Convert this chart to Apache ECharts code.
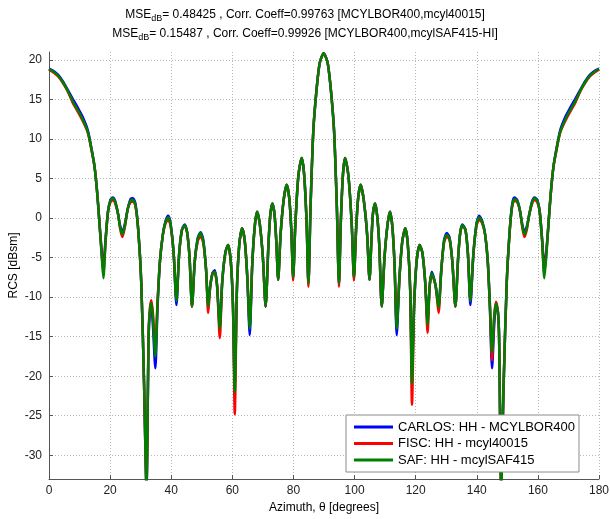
<!DOCTYPE html>
<html>
<head>
<meta charset="utf-8">
<script src="https://cdn.jsdelivr.net/npm/echarts@6/dist/echarts.min.js"></script>
<style>html,body{margin:0;padding:0;background:#fff}#c{width:610px;height:519px}</style>
</head>
<body>
<div id="c"></div>
<script>
const seriesNames = ['CARLOS: HH - MCYLBOR400', 'FISC: HH - mcyl40015', 'SAF: HH - mcylSAF415'];
const titleLines = [
  ['MSE', 'dB', '= 0.48425 , Corr. Coeff=0.99763 [MCYLBOR400,mcyl40015]'],
  ['MSE', 'dB', '= 0.15487 , Corr. Coeff=0.99926 [MCYLBOR400,mcylSAF415-HI]']
];
const xTicks = [0, 20, 40, 60, 80, 100, 120, 140, 160, 180];
const yTicks = [-30, -25, -20, -15, -10, -5, 0, 5, 10, 15, 20];

const azimuth = [
  0, 1.5, 3, 4.5, 6, 8, 9.5, 11, 12.7, 14,
  14.9, 15.7, 16.4, 17.2, 17.8, 18.5, 19.3, 20.1, 20.9, 21.7,
  22.6, 23.3, 24.0, 24.8, 25.8, 26.7, 27.5, 28.3, 29.2, 30.2,
  31.1, 31.9, 32.6, 33.0, 33.5, 34.0, 34.8, 35.5, 36.3, 37.3,
  38.2, 39.0, 39.8, 40.8, 41.7, 42.6, 43.5, 44.4, 45.2, 46.0,
  46.8, 47.7, 48.7, 49.6, 50.5, 51.4, 52.1, 52.8, 53.6, 54.3,
  55.0, 55.9, 56.7, 57.7, 58.6, 59.5, 60.2, 60.8, 61.5, 62.3,
  63.2, 64.1, 64.9, 65.7, 66.5, 67.3, 68.1, 69.0, 70.0, 70.9,
  71.8, 72.4, 73.1, 73.8, 74.4, 75.0, 75.8, 76.8, 77.8, 78.6,
  79.3, 79.9, 80.6, 81.6, 82.7, 83.5, 84.3, 84.9, 85.6, 86.5,
  87.5, 88.6, 89.9, 91.2, 92.3, 93.3, 94.2, 94.9, 95.5, 96.2,
  96.9, 98.0, 99.1, 99.8, 100.5, 101.2, 102.0, 103.0, 104.1, 104.9,
  105.5, 106.0, 106.7, 107.4, 108.1, 108.9, 109.8, 110.8, 111.6, 112.4,
  113.1, 113.8, 114.7, 115.6, 116.6, 117.4, 118.2, 118.8, 119.5, 120.3,
  121.3, 122.2, 123.1, 123.9, 124.6, 125.3, 126.5, 127.5, 128.4, 129.3,
  130.2, 131.1, 132.0, 133.0, 133.9, 134.6, 135.3, 136.3, 137.1, 137.9,
  138.9, 139.9, 140.8, 141.7, 142.7, 143.6, 144.3, 145.0, 145.7, 146.3,
  146.9, 147.3, 148.0, 148.8, 149.8, 150.8, 151.6, 152.3, 153.2, 154.1,
  154.9, 155.6, 156.4, 157.2, 158.1, 158.9, 159.8, 160.6, 161.4, 162.1,
  162.8, 163.6, 164.3, 165.1, 166.0, 167.3, 169.0, 170.5, 172.0, 174.0,
  175.5, 177.0, 178.5, 180
];

const carlos = [
  18.9, 18.6, 18.1, 17.3, 16.3, 14.9, 13.9, 12.8, 11.1, 8.6,
  6.5, 3.5, 0, -4.0, -6.2, -2.7, 0.8, 2.3, 2.6, 2.1,
  0.5, -1.0, -1.8, -0.8, 1.2, 2.4, 2.5, 1.8, -1.5, -8.2,
  -20.8, -34, -15, -12, -11.2, -13.5, -19.0, -11.5, -5.5, -2,
  -0.3, 0.3, -0.7, -4.5, -11.0, -4.5, -1.5, -0.8, -1.8, -5,
  -11.2, -5.5, -2.5, -1.8, -2.8, -6.5, -10.8, -8.5, -6.9, -6.6,
  -8.5, -13.5, -8, -4.4, -3.4, -5.5, -11, -21, -9, -3.2,
  -1.3, -3, -7.5, -14.8, -6, -1.2, 0.8, -0.8, -5, -11.2,
  -3.5, 0.3, 1.85, 0.5, -3, -7.8, -2, 2.3, 4.2, 2.6,
  -1.5, -7.5, -1, 5.3, 7.6, 5.5, -0.5, -8.3, 1.5, 11,
  16, 19.6, 20.85, 19.6, 16, 11, 1.5, -8.3, -0.5, 5.5,
  7.6, 5.3, -1, -7.5, -1.5, 2.6, 4.2, 2.3, -2, -7.8,
  -3, 0.5, 1.85, 0.3, -3.5, -11.2, -5, -0.8, 0.8, -1.2,
  -6, -14.8, -7.5, -3, -1.3, -3.2, -9, -19, -11, -5.5,
  -3.4, -4.4, -8, -13.0, -8.5, -6.8, -8.5, -11.0, -6.5, -2.8,
  -1.9, -2.5, -5.5, -11.2, -5, -1.8, -0.8, -1.5, -4.5, -11,
  -4.5, -0.7, 0.3, -0.3, -2, -5.5, -11.5, -19, -13.5, -11.0,
  -11.8, -15, -34, -20.8, -8.2, -1.5, 1.8, 2.6, 2.3, 1.0,
  -0.8, -1.8, -1.0, 0.5, 2.1, 2.6, 2.3, 0.8, -2.7, -6.2,
  -4.0, 0, 3.5, 6.5, 8.6, 11.1, 12.8, 13.9, 14.9, 16.3,
  17.3, 18.1, 18.6, 18.9
];

const fisc = [
  18.8, 18.4, 17.9, 17.1, 16.1, 14.4, 13.4, 12.3, 10.8, 8.4,
  6.5, 3.5, 0, -4.3, -7.0, -3, 0.8, 2.0, 2.3, 1.8,
  0.5, -1.4, -2.4, -1.2, 1.2, 2.0, 2.1, 1.5, -1.5, -8.2,
  -20.8, -34, -14.5, -11.5, -10.4, -12, -16.5, -10.8, -5.5, -2,
  -0.6, -0.2, -1.0, -4.5, -10.3, -4.5, -1.5, -1.0, -1.8, -5,
  -11.2, -5.5, -2.9, -2.3, -3.2, -6.5, -12.0, -8.5, -6.9, -7.0,
  -8.5, -15.2, -8, -4.4, -3.4, -5.5, -11, -24.8, -9, -3.2,
  -1.3, -3, -7.5, -13.5, -6, -1.2, 0.8, -0.8, -5, -11.2,
  -3.5, 0.3, 1.85, 0.5, -3, -7.8, -2, 2.3, 4.2, 2.6,
  -1.5, -7.9, -1, 5.3, 7.6, 5.5, -0.5, -8.7, 1.5, 11,
  16, 19.6, 20.85, 19.6, 16, 11, 1.5, -8.7, -0.5, 5.5,
  7.6, 5.3, -1, -7.9, -1.5, 2.6, 4.2, 2.3, -2, -7.8,
  -3, 0.5, 1.85, 0.3, -3.5, -11.2, -5, -0.8, 0.8, -1.2,
  -6, -13.5, -7.5, -3, -1.3, -3.2, -9, -23.6, -11, -5.5,
  -3.4, -4.4, -8, -14.5, -8.5, -7.2, -8.5, -12.0, -6.5, -3.1,
  -2.3, -2.8, -5.5, -11.2, -5, -1.8, -1.0, -1.5, -4.5, -10.3,
  -4.5, -1.0, -0.2, -0.6, -2, -5.5, -11, -18, -12.5, -10.6,
  -11.8, -15, -34, -20.8, -8.2, -1.5, 1.5, 2.2, 2.0, 1.0,
  -1.2, -2.4, -1.4, 0.5, 1.8, 2.3, 2.0, 0.8, -3, -7.0,
  -4.3, 0, 3.5, 6.5, 8.4, 10.8, 12.3, 13.4, 14.4, 16.1,
  17.1, 17.9, 18.4, 18.8
];

const saf = [
  18.8, 18.5, 18.0, 17.2, 16.2, 14.6, 13.6, 12.5, 10.9, 8.5,
  6.5, 3.5, 0, -4.5, -7.6, -3, 0.8, 2.2, 2.5, 2.0,
  0.5, -1.2, -2.1, -1.0, 1.2, 2.2, 2.3, 1.6, -1.5, -8.2,
  -20.8, -34, -15, -11.8, -10.7, -12.5, -17.5, -11, -5.5, -2,
  -0.4, 0.1, -0.8, -4.5, -10.5, -4.5, -1.5, -0.9, -1.8, -5,
  -11.2, -5.5, -2.6, -1.9, -2.9, -6.5, -11.2, -8.5, -6.9, -6.8,
  -8.5, -14.0, -8, -4.4, -3.4, -5.5, -11, -22, -9, -3.2,
  -1.3, -3, -7.5, -14, -6, -1.2, 0.8, -0.8, -5, -11.2,
  -3.5, 0.3, 1.85, 0.5, -3, -7.8, -2, 2.3, 4.2, 2.6,
  -1.5, -7.5, -1, 5.3, 7.6, 5.5, -0.5, -8.3, 1.5, 11,
  16, 19.6, 20.85, 19.6, 16, 11, 1.5, -8.3, -0.5, 5.5,
  7.6, 5.3, -1, -7.5, -1.5, 2.6, 4.2, 2.3, -2, -7.8,
  -3, 0.5, 1.85, 0.3, -3.5, -11.2, -5, -0.8, 0.8, -1.2,
  -6, -14, -7.5, -3, -1.3, -3.2, -9, -21, -11, -5.5,
  -3.4, -4.4, -8, -13.5, -8.5, -7.0, -8.5, -11.3, -6.5, -2.9,
  -2.1, -2.6, -5.5, -11.2, -5, -1.8, -0.9, -1.5, -4.5, -10.5,
  -4.5, -0.8, 0.1, -0.4, -2, -5.5, -11, -17, -12.5, -10.8,
  -11.8, -15, -34, -20.8, -8.2, -1.5, 1.6, 2.4, 2.2, 1.0,
  -1.0, -2.1, -1.2, 0.5, 2.0, 2.5, 2.2, 0.8, -3, -7.6,
  -4.5, 0, 3.5, 6.5, 8.5, 10.9, 12.5, 13.6, 14.6, 16.2,
  17.2, 18.0, 18.5, 18.8
];

const FONT = "'Liberation Sans', Arial, sans-serif";
const colors = ['#0000ff', '#ff0000', '#008000'];
const values = [carlos, fisc, saf];

function pairs(v) { return azimuth.map((a, i) => [a, v[i]]); }

function titleText(parts) { return '{n|' + parts[0] + '}{s|' + parts[1] + '}{n|' + parts[2] + '}'; }
const titleRich = {
  n: { fontSize: 12, lineHeight: 16, verticalAlign: 'middle', fontFamily: FONT, color: '#000' },
  s: { fontSize: 9, lineHeight: 16, verticalAlign: 'bottom', fontFamily: FONT, color: '#000' }
};

const chart = echarts.init(document.getElementById('c'), null, { renderer: 'canvas' });
chart.setOption({
  animation: false,
  backgroundColor: '#fff',
  textStyle: { fontFamily: FONT },
  title: titleLines.map((t, i) => ({
    text: titleText(t),
    left: 'center',
    top: i === 0 ? 7 : 26,
    padding: [0, 0, 0, 5],
    textStyle: { rich: titleRich, fontFamily: FONT, fontWeight: 'normal' }
  })),
  grid: { left: 49, right: 11, top: 52, bottom: 40, containLabel: false, outerBoundsMode: 'none' },
  legend: {
    orient: 'vertical',
    left: 346, top: 415,
    z: 20, zlevel: 0,
    padding: [5, 4, 5, 8],
    itemGap: 2.5,
    icon: 'rect',
    itemWidth: 39, itemHeight: 3,
    backgroundColor: '#fff',
    borderColor: '#8c8c8c', borderWidth: 1, borderRadius: 0,
    textStyle: { fontSize: 13, lineHeight: 14, fontFamily: FONT, color: '#000' },
    data: seriesNames.map((n, i) => ({ name: n, itemStyle: { color: colors[i] } }))
  },
  xAxis: {
    type: 'value', min: 0, max: 180, interval: 20,
    name: 'Azimuth, θ [degrees]', nameLocation: 'middle', nameGap: 22,
    nameTextStyle: { fontSize: 12, color: '#000', fontFamily: FONT },
    axisLine: { show: true, onZero: false, lineStyle: { color: '#555', width: 1 } },
    axisTick: { show: true, inside: true, length: 4, lineStyle: { color: '#555' } },
    axisLabel: { fontSize: 12, color: '#222', margin: 6, fontFamily: FONT },
    splitLine: { show: true, lineStyle: { type: [1, 2], color: '#b8b8b8', width: 1 } }
  },
  yAxis: {
    type: 'value', min: -33, max: 21,
    name: 'RCS [dBsm]', nameLocation: 'middle', nameGap: 29, nameRotate: 90,
    nameMoveOverlap: false,
    nameTextStyle: { fontSize: 12, color: '#000', fontFamily: FONT },
    axisLine: { show: true, onZero: false, lineStyle: { color: '#555', width: 1 } },
    axisTick: { show: true, inside: true, length: 4, lineStyle: { color: '#555' }, customValues: yTicks },
    axisLabel: { fontSize: 12, color: '#222', margin: 7, fontFamily: FONT, customValues: yTicks },
    splitLine: { show: true, lineStyle: { type: [1, 2], color: '#b8b8b8', width: 1 } }
  },
  series: seriesNames.map((n, i) => ({
    name: n,
    type: 'line',
    data: pairs(values[i]),
    symbol: 'none',
    smooth: 0.25,
    clip: true,
    lineStyle: { color: colors[i], width: 2.5 },
    itemStyle: { color: colors[i] },
    z: 2 + i * 0.1
  }))
});
</script>
</body>
</html>
